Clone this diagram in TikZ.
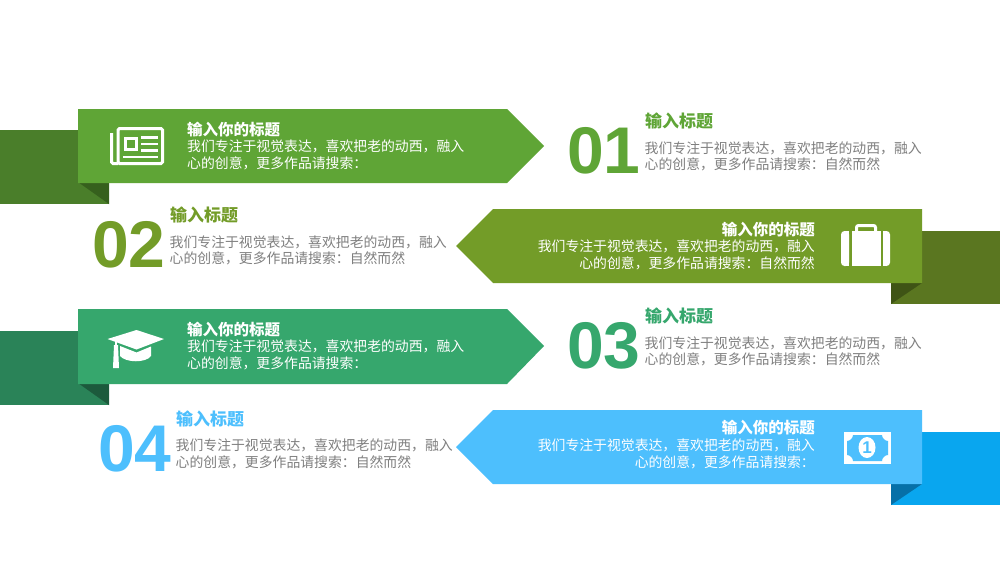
\documentclass[tikz,border=0pt]{standalone}
\usepackage{fontspec}
\setmainfont{Noto Sans CJK SC}
\newfontfamily\numfont{Liberation Sans}
\definecolor{gA}{HTML}{5FA536}\definecolor{gAb}{HTML}{4A7E2A}\definecolor{gAf}{HTML}{36601D}
\definecolor{gB}{HTML}{739C28}\definecolor{gBb}{HTML}{5A7620}\definecolor{gBf}{HTML}{3F5415}
\definecolor{gC}{HTML}{36A76D}\definecolor{gCb}{HTML}{2A8358}\definecolor{gCf}{HTML}{1C5A3C}
\definecolor{gD}{HTML}{4DBFFD}\definecolor{gDb}{HTML}{09A6EF}\definecolor{gDf}{HTML}{0670A8}
\definecolor{bodygray}{HTML}{7F7F7F}
\tikzset{
 txt/.style={inner sep=0pt,font=\fontsize{13.85}{16}\selectfont},
 lt/.style={txt,anchor=west},
 rt/.style={txt,anchor=east},
 bandhead/.style={inner sep=0pt,white,font=\fontsize{15.5}{17}\selectfont\bfseries},
 sidehead/.style={inner sep=0pt,anchor=west,font=\fontsize{17}{19}\selectfont\bfseries},
 bignum/.style={inner sep=0pt,anchor=west,font=\fontsize{66}{66}\numfont\bfseries},
 icon/.style={fill=white,draw=none},
 iconline/.style={draw=white,line width=3pt,fill=none},
}
\begin{document}
\begin{tikzpicture}[x=1pt,y=-1pt]
\useasboundingbox (0,0) rectangle (1000,563);
\fill[white] (0,0) rectangle (1000,563);
% band 1
\fill[gAb] (0,130) rectangle (109,204);
\fill[gAf] (78,182) -- (109,182) -- (109,204) -- cycle;
\fill[gA] (78,109) -- (507,109) -- (544,146) -- (507,183) -- (78,183) -- cycle;
% band 2
\fill[gBb] (1000,231) rectangle (891,304);
\fill[gBf] (922,283) -- (891,283) -- (891,304) -- cycle;
\fill[gB] (922,209) -- (493,209) -- (456,246) -- (493,283) -- (922,283) -- cycle;
% band 3
\fill[gCb] (0,331) rectangle (109,405);
\fill[gCf] (78,383) -- (109,383) -- (109,405) -- cycle;
\fill[gC] (78,309) -- (507,309) -- (544,346) -- (507,384) -- (78,384) -- cycle;
% band 4
\fill[gDb] (1000,432) rectangle (891,505);
\fill[gDf] (922,484) -- (891,484) -- (891,505) -- cycle;
\fill[gD] (922,410) -- (493,410) -- (456,447) -- (493,484) -- (922,484) -- cycle;
% band texts
\node[bandhead,anchor=west] (a1) at (187,130) {输入你的标题};
\node[lt,white] (a2) at (187,146) {我们专注于视觉表达，喜欢把老的动西，融入};
\node[lt,white] (a3) at (187,163) {心的创意，更多作品请搜索：};
\node[bandhead,anchor=east] (b1) at (815,230) {输入你的标题};
\node[rt,white] (b2) at (815,246) {我们专注于视觉表达，喜欢把老的动西，融入};
\node[rt,white] (b3) at (815,263) {心的创意，更多作品请搜索：自然而然};
\node[bandhead,anchor=west] (c1) at (187,330) {输入你的标题};
\node[lt,white] (c2) at (187,346) {我们专注于视觉表达，喜欢把老的动西，融入};
\node[lt,white] (c3) at (187,363) {心的创意，更多作品请搜索：};
\node[bandhead,anchor=east] (d1) at (815,428) {输入你的标题};
\node[rt,white] (d2) at (815,445) {我们专注于视觉表达，喜欢把老的动西，融入};
\node[rt,white] (d3) at (815,462) {心的创意，更多作品请搜索：};
% side blocks
\node[bignum,gA] (n1) at (567,151) {01};
\node[sidehead,gA] (s1) at (645,121) {输入标题};
\node[lt,bodygray] (s1a) at (644.5,148) {我们专注于视觉表达，喜欢把老的动西，融入};
\node[lt,bodygray] (s1b) at (644.5,164) {心的创意，更多作品请搜索：自然而然};
\node[bignum,gB] (n2) at (92,245) {02};
\node[sidehead,gB] (s2) at (170,215) {输入标题};
\node[lt,bodygray] (s2a) at (169.5,242) {我们专注于视觉表达，喜欢把老的动西，融入};
\node[lt,bodygray] (s2b) at (169.5,258) {心的创意，更多作品请搜索：自然而然};
\node[bignum,gC] (n3) at (567,346) {03};
\node[sidehead,gC] (s3) at (645,316) {输入标题};
\node[lt,bodygray] (s3a) at (644.5,343) {我们专注于视觉表达，喜欢把老的动西，融入};
\node[lt,bodygray] (s3b) at (644.5,359) {心的创意，更多作品请搜索：自然而然};
\node[bignum,gD] (n4) at (98,449) {04};
\node[sidehead,gD] (s4) at (176,419) {输入标题};
\node[lt,bodygray] (s4a) at (175.5,445) {我们专注于视觉表达，喜欢把老的动西，融入};
\node[lt,bodygray] (s4b) at (175.5,462) {心的创意，更多作品请搜索：自然而然};
% newspaper icon
\draw[iconline,rounded corners=1.5pt] (118,128.5) rectangle (162.5,163.5);
\draw[iconline,line width=3pt,rounded corners=1.5pt] (111.5,133) -- (111.5,163.5) -- (118,163.5);
\draw[iconline] (125.5,138.5) rectangle (136,149.5);
\draw[iconline,line width=2.8pt] (141,137.5) -- (158,137.5) (141,144) -- (158,144) (141,150.5) -- (158,150.5) (123,157) -- (158,157);
% suitcase icon
\fill[icon,rounded corners=3.5pt] (841,231) rectangle (849,266);
\fill[white] (845,231) rectangle (849,266);
\fill[icon,rounded corners=3.5pt] (883,231) rectangle (890,266);
\fill[white] (883,231) rectangle (886,266);
\fill[icon] (852,231) rectangle (881,266);
\draw[iconline,rounded corners=2pt] (856.5,232) -- (856.5,225.5) -- (875.5,225.5) -- (875.5,232);
% mortarboard icon
\fill[icon] (107.5,339) -- (136.5,330) -- (164,339) -- (136.5,349.5) -- cycle;
\fill[icon] (120,346) -- (136.5,352.5) -- (151,346.5) -- (151,356) .. controls (146,363) and (126,363) .. (120,356) -- cycle;
\draw[iconline,line width=1.4pt] (116,340.5) -- (116,350);
\fill[icon] (114,345) -- (118,345) -- (119,368) -- (113,368) -- cycle;
% banknote icon
\fill[icon] (844,432) rectangle (890.5,464);
\fill[gD] (853,435) -- (882,435) .. controls (882,438) and (885,441) .. (888,441) -- (888,455) .. controls (885,455) and (882,458) .. (882,461) -- (853,461) .. controls (853,458) and (850,455) .. (847,455) -- (847,441) .. controls (850,441) and (853,438) .. (853,435) -- cycle;
\fill[white] (867,447.5) ellipse (8.5 and 10.5);
\node[inner sep=0pt,gD,font=\fontsize{17}{17}\numfont\bfseries] (m) at (867,447.5) {1};
\end{tikzpicture}
\end{document}
